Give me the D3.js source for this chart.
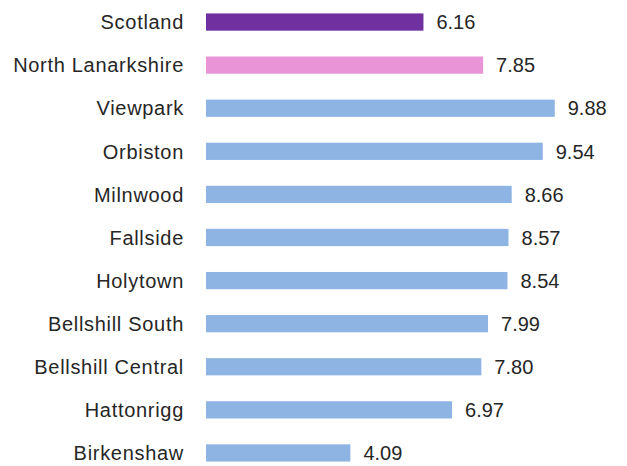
<!DOCTYPE html>
<html>
<head>
<meta charset="utf-8">
<script src="https://cdn.jsdelivr.net/npm/d3@7"></script>
<style>
  body { margin: 0; background: #fff; }
  text { font-family: "Liberation Sans", Arial, sans-serif; fill: #262626; }
</style>
</head>
<body>
<div id="grafica"></div>
<script>
// Datos
const areas = ["Scotland", "North Lanarkshire", "Viewpark", "Orbiston", "Milnwood", "Fallside",
  "Holytown", "Bellshill South", "Bellshill Central", "Hattonrigg", "Birkenshaw"]
const valores = [6.16, 7.85, 9.88, 9.54, 8.66, 8.57, 8.54, 7.99, 7.80, 6.97, 4.09]
const colores = ["#7030A0", "#E994D6", "#8EB4E3", "#8EB4E3", "#8EB4E3", "#8EB4E3",
  "#8EB4E3", "#8EB4E3", "#8EB4E3", "#8EB4E3", "#8EB4E3"]

const anchoTotal = 627
const altoTotal = 466

const margins = { top: 0, right: 20, bottom: 0, left: 206 }

const data = areas.map((a, i) => ({ area: a, valor: valores[i], color: colores[i] }))

// Escaladores
const x = d3.scaleLinear().domain([0, 10]).range([0, 353])
const y = d3.scaleBand().domain(areas).range([0.5, 474.5]).paddingInner(0.6).paddingOuter(0.3)

const svg = d3.select("#grafica").append("svg")
  .attr("width", anchoTotal)
  .attr("height", altoTotal)

const g = svg.append("g")
  .attr("transform", `translate(${margins.left},${margins.top})`)

// Barras
g.selectAll("rect")
  .data(data)
  .join("rect")
    .attr("x", x(0))
    .attr("y", d => y(d.area))
    .attr("width", d => x(d.valor))
    .attr("height", y.bandwidth())
    .attr("fill", d => d.color)

// Etiquetas de valores
g.selectAll(".valor")
  .data(data)
  .join("text")
    .attr("class", "valor")
    .attr("x", d => x(d.valor) + 13)
    .attr("y", d => y(d.area) + y.bandwidth() / 2)
    .attr("dy", "0.36em")
    .attr("font-size", "20px")
    .text(d => d.valor.toFixed(2))

// Eje Y (solo etiquetas)
const ejeY = g.append("g")
  .call(d3.axisLeft(y).tickSize(0).tickPadding(22))
ejeY.select(".domain").remove()
ejeY.selectAll("text")
  .attr("font-size", "20px")
  .attr("dy", "0.36em")
  .style("letter-spacing", "0.7px")
  .style("font-family", "Liberation Sans, Arial, sans-serif")
  .attr("fill", "#262626")
</script>
</body>
</html>
